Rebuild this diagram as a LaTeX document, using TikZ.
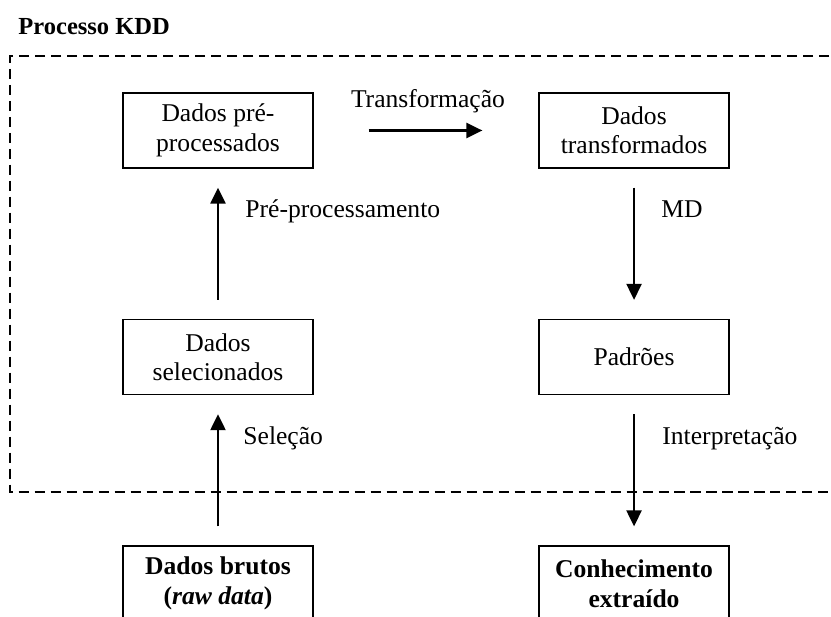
\documentclass[tikz,border=0pt]{standalone}
\usepackage{fontspec}
\setmainfont{Liberation Serif}
\usetikzlibrary{arrows.meta}
\tikzstyle{dados} = [rectangle, 
minimum width=3.131cm, 
minimum height=1.236cm,
align=center, 
draw=black, 
line width=0.6pt,
font=\fontsize{12}{13.8}\selectfont]
\tikzstyle{final} = [dados, 
font=\fontsize{12}{13.8}\selectfont\bfseries]
\tikzstyle{rotulo} = [anchor=base west, 
inner sep=0pt, 
font=\fontsize{12}{13.8}\selectfont]
\tikzstyle{moldura} = [line width=0.6pt, dash pattern=on 4.7pt off 2.8pt]
\tikzstyle{arrow} = [line width=1.15pt, -{Triangle[length=7.5pt,width=7pt]}, shorten <=0.313cm, shorten >=0.313cm]

\begin{document}
\begin{tikzpicture}[x=0.01648cm, y=-0.01648cm, node distance=3.733cm]
		\clip (0,0) rectangle (831,617);
		
		\node (tit) [rotulo, font=\fontsize{11.5}{13}\selectfont\bfseries] at (18,35) {Processo KDD};
		\draw [moldura] (845,56) -- (10,56) -- (10,492) -- (845,492);
		
		\node (pre) [dados] at (218,130.5) {Dados pré-\\processados};
		\node (sel) [dados, below of=pre] {Dados\\selecionados};
		\node (brutos) [final, below of=sel] {Dados brutos\\(\textit{raw data})};
		
		\node (transf) [dados, right of=pre, xshift=3.123cm] {Dados\\transformados};
		\node (padroes) [dados, below of=transf] {Padrões};
		\node (conhec) [final, below of=padroes] {Conhecimento\\extraído};
		
		\draw [arrow] (brutos) -- (sel);
		\draw [arrow] (sel) -- (pre);
		\draw [arrow, shorten <=0.906cm, shorten >=0.923cm] (pre) -- (transf);
		\draw [arrow] (transf) -- (padroes);
		\draw [arrow] (padroes) -- (conhec);
		
		\node (lbltransf) [rotulo, anchor=base] at (428,108) {Transformação};
		\node (lblpre) [rotulo] at (245,218) {Pré-processamento};
		\node (lblmd) [rotulo] at (661,218) {MD};
		\node (lblsel) [rotulo] at (243,445) {Seleção};
		\node (lblinterp) [rotulo] at (662,445) {Interpretação};
		
	\end{tikzpicture}
\end{document}
